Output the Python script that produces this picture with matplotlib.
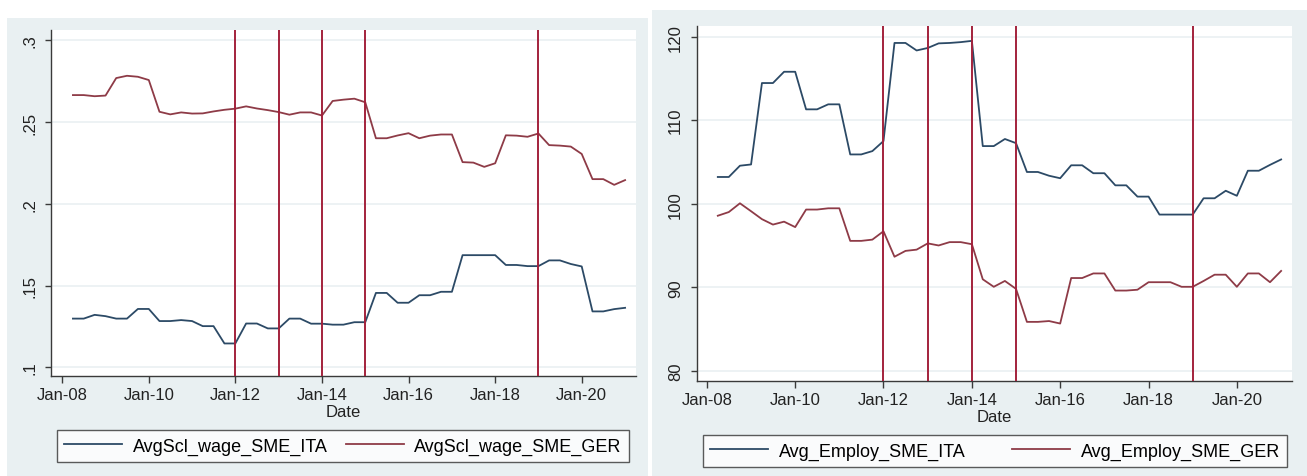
import matplotlib
matplotlib.use("Agg")
import matplotlib.pyplot as plt
import matplotlib.dates as mdates
from matplotlib.patches import Rectangle
import pandas as pd

plt.rcParams['font.family'] = ['Liberation Sans', 'DejaVu Sans']

# quarterly observations, Apr-08 .. Jan-21
dates = pd.date_range("2008-04-01", periods=52, freq="QS")

wage_ita = [0.1298, 0.1298, 0.1321, 0.1313, 0.1298, 0.1298, 0.1357, 0.1357,
            0.1283, 0.1283, 0.1289, 0.1283, 0.1252, 0.1252, 0.1146, 0.1146,
            0.1268, 0.1268, 0.1238, 0.1238, 0.1298, 0.1298, 0.1267, 0.1267,
            0.1261, 0.1261, 0.1276, 0.1276, 0.1455, 0.1455, 0.1395, 0.1395,
            0.1441, 0.1441, 0.1462, 0.1462, 0.1686, 0.1686, 0.1686, 0.1686,
            0.1626, 0.1626, 0.1619, 0.1619, 0.1654, 0.1654, 0.1632, 0.1617,
            0.1342, 0.1342, 0.1356, 0.1364]
wage_ger = [0.2665, 0.2665, 0.2658, 0.2662, 0.2769, 0.2783, 0.2777, 0.2757,
            0.2563, 0.2547, 0.2559, 0.2552, 0.2553, 0.2565, 0.2575, 0.2582,
            0.2596, 0.2583, 0.2573, 0.2561, 0.2545, 0.2559, 0.2559, 0.2540,
            0.2629, 0.2637, 0.2643, 0.2621, 0.2401, 0.2401, 0.2418, 0.2432,
            0.2401, 0.2417, 0.2424, 0.2424, 0.2255, 0.2252, 0.2226, 0.2248,
            0.2419, 0.2417, 0.2410, 0.2430, 0.2359, 0.2356, 0.2350, 0.2305,
            0.2151, 0.2151, 0.2116, 0.2145]

employ_ita = [103.2, 103.2, 104.55, 104.7, 114.45, 114.45, 115.8, 115.8,
              111.3, 111.3, 111.9, 111.9, 105.9, 105.9, 106.3, 107.5,
              119.25, 119.25, 118.35, 118.65, 119.2, 119.25, 119.35, 119.5,
              106.9, 106.9, 107.75, 107.25, 103.8, 103.8, 103.35, 103.05,
              104.6, 104.6, 103.65, 103.65, 102.2, 102.2, 100.85, 100.85,
              98.7, 98.7, 98.7, 98.7, 100.65, 100.65, 101.55, 100.95,
              103.95, 103.95, 104.65, 105.3]
employ_ger = [98.56, 99.0, 100.05, 99.1, 98.15, 97.5, 97.85, 97.2,
              99.3, 99.3, 99.45, 99.45, 95.55, 95.55, 95.7, 96.7,
              93.65, 94.35, 94.5, 95.25, 95.0, 95.4, 95.4, 95.15,
              90.95, 90.05, 90.75, 89.8, 85.85, 85.85, 85.95, 85.65,
              91.1, 91.1, 91.65, 91.65, 89.6, 89.6, 89.7, 90.6,
              90.6, 90.6, 90.05, 90.05, 90.75, 91.5, 91.5, 90.05,
              91.65, 91.65, 90.6, 91.95]

event_dates = pd.to_datetime(["2012-01-01", "2013-01-01", "2014-01-01",
                              "2015-01-01", "2019-01-01"])
xtick_dates = pd.date_range("2008-01-01", "2020-01-01", freq="2YS")

wage_yticks = [0.1, 0.15, 0.2, 0.25, 0.3]
wage_ylabels = [".1", ".15", ".2", ".25", ".3"]
employ_yticks = [80, 90, 100, 110, 120]
employ_ylabels = ["80", "90", "100", "110", "120"]

C_ITA = "#2c4a66"
C_GER = "#8e3b47"
C_EVENT = "#a3223c"
C_BG = "#e9f0f2"
C_GRID = "#edf2f4"
C_AXIS = "#3a3a3a"

W, H = 1307, 477
fig = plt.figure(figsize=(W / 100, H / 100), dpi=100, facecolor="white")

# graph-region backgrounds of the two panels, kept behind the axes
fig.patches.append(Rectangle((7 / W, 0), 641 / W, 458 / H, transform=fig.transFigure,
                             facecolor=C_BG, edgecolor="none", zorder=-10))
fig.patches.append(Rectangle((652 / W, 0), 655 / W, 466 / H, transform=fig.transFigure,
                             facecolor=C_BG, edgecolor="none", zorder=-10))


def panel(rect, ita, ger, names, yticks, ylabels, xlim, ylim, legend_rect):
    ax = fig.add_axes(rect)
    ax.set_zorder(1)
    ax.set_facecolor("white")
    for y in yticks:
        ax.axhline(y, color=C_GRID, lw=1.4, zorder=1)
    ax.plot(dates, ita, color=C_ITA, lw=1.3, label=names[0], zorder=3)
    ax.plot(dates, ger, color=C_GER, lw=1.3, label=names[1], zorder=3)
    for d in event_dates:
        ax.axvline(d, color=C_EVENT, lw=1.4, zorder=4)

    ax.set_xlim(pd.Timestamp(xlim[0]), pd.Timestamp(xlim[1]))
    ax.set_ylim(*ylim)
    ax.set_xticks(xtick_dates)
    ax.xaxis.set_major_formatter(mdates.DateFormatter("%b-%y"))
    ax.set_yticks(yticks)
    ax.set_yticklabels(ylabels, rotation=90, va="center")

    for s in ("top", "right"):
        ax.spines[s].set_visible(False)
    for s in ("left", "bottom"):
        ax.spines[s].set_color(C_AXIS)
        ax.spines[s].set_linewidth(1.0)
    ax.tick_params(axis="x", length=5, width=1, color=C_AXIS, labelsize=12, pad=3,
                   labelcolor="#222222")
    ax.tick_params(axis="y", length=4, width=1, color=C_AXIS, labelsize=12, pad=6,
                   labelcolor="#222222")
    ax.set_xlabel("Date", fontsize=12, labelpad=1.5, color="#222222")

    leg = ax.legend(loc="center", bbox_to_anchor=legend_rect, bbox_transform=fig.transFigure,
                    mode="expand", ncol=2, fontsize=13, frameon=True, fancybox=False,
                    handlelength=3.2, handletextpad=0.6, borderpad=0.4, borderaxespad=0,
                    columnspacing=0.5)
    frame = leg.get_frame()
    frame.set_edgecolor("#333333")
    frame.set_linewidth(1.0)
    frame.set_facecolor("white")
    for line in leg.get_lines():
        line.set_linewidth(1.3)
    return ax


panel([51 / W, 100 / H, 585 / W, 346 / H], wage_ita, wage_ger,
      ["AvgScl_wage_SME_ITA", "AvgScl_wage_SME_GER"],
      wage_yticks, wage_ylabels, ("2007-09-29", "2021-04-03"), (0.0947, 0.3063),
      (57 / W, 15 / H, 572 / W, 30 / H))

panel([697 / W, 95 / H, 595 / W, 355 / H], employ_ita, employ_ger,
      ["Avg_Employ_SME_ITA", "Avg_Employ_SME_GER"],
      employ_yticks, employ_ylabels, ("2007-10-12", "2021-04-01"), (78.77, 121.28),
      (703 / W, 9 / H, 584 / W, 32 / H))

fig.savefig("out.png", dpi=100, facecolor="white")
